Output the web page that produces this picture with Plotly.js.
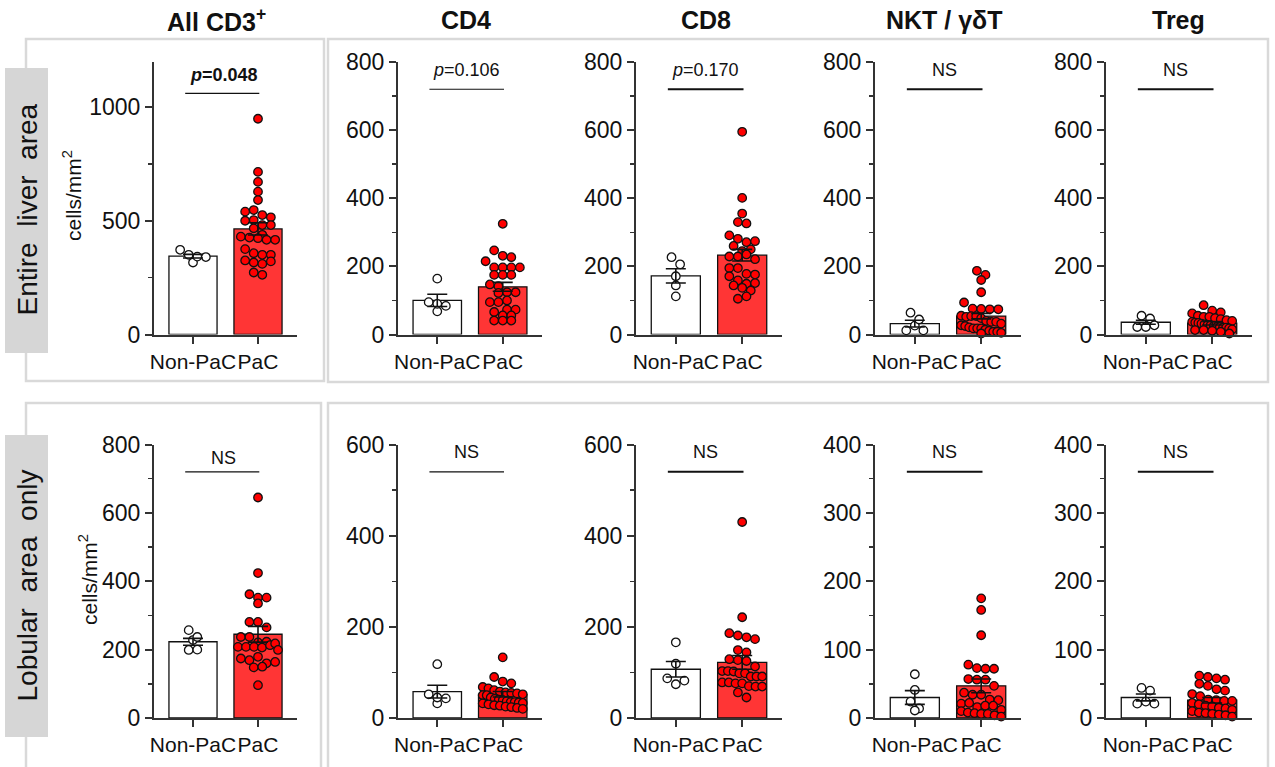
<!DOCTYPE html>
<html>
<head>
<meta charset="utf-8">
<script src="https://cdn.plot.ly/plotly-3.0.1.min.js"></script>
<style>html,body{margin:0;padding:0;background:#fff;}#chart{width:1275px;height:767px;}</style>
</head>
<body>
<div id="chart"></div>
<script>
// ---------- DATA ----------
const groups = ['Non-PaC', 'PaC'];
const panelTitles = ['All CD3<sup>+</sup>', 'CD4', 'CD8', 'NKT / γδT', 'Treg'];
const rowLabels = ['Entire  liver  area', 'Lobular  area  only'];
const yUnitLabel = 'cells/mm<sup>2</sup>';

// axis maxima and tick steps per row
const entireYMax = [1200, 800, 800, 800, 800];
const entireDtick = [500, 200, 200, 200, 200];
const lobularYMax = [800, 600, 600, 400, 400];
const lobularDtick = [200, 200, 200, 100, 100];

// significance labels
const entireSig = ['<b><i>p</i>=0.048</b>', '<i>p</i>=0.106', '<i>p</i>=0.170', 'NS', 'NS'];
const lobularSig = ['NS', 'NS', 'NS', 'NS', 'NS'];

// bar heights (mean) and SEM
const entireMeanNon = [345, 100, 172, 32, 36];
const entireMeanPaC = [465, 140, 233, 54, 33];
const entireSemNon = [8, 18, 21, 10, 6];
const entireSemPaC = [27, 13, 17, 8, 5];
const lobularMeanNon = [223, 58, 107, 30, 30];
const lobularMeanPaC = [245, 52, 122, 47, 26];
const lobularSemNon = [10, 14, 17, 10, 5];
const lobularSemPaC = [23, 6, 15, 10, 4];

// individual points — Entire liver area
const entireNonCD3 = [373, 317, 351, 343, 341];
const entirePaCCD3 = [950, 716, 672, 629, 592, 541, 548, 526, 516, 501, 504, 482, 482, 468, 439, 431, 427, 424, 417, 417, 376, 358, 351, 351, 326, 317, 311, 322, 273, 263];
const entireNonCD4 = [164, 95, 68, 90, 84];
const entirePaCCD4 = [325, 247, 231, 227, 215, 197, 197, 197, 197, 175, 175, 175, 147, 142, 124, 124, 122, 100, 95, 95, 73, 73, 66, 56, 56, 41, 41, 41];
const entireNonCD8 = [227, 206, 171, 144, 112];
const entirePaCCD8 = [595, 401, 355, 330, 326, 291, 281, 271, 274, 260, 245, 250, 229, 229, 235, 221, 195, 195, 178, 176, 171, 159, 144, 149, 151, 137, 129, 105, 112];
const entireNonNKT = [64, 12, 26, 44, 12];
const entirePaCNKT = [187, 175, 160, 124, 94, 76, 75, 74, 74, 55, 52, 54, 54, 48, 40, 37, 37, 32, 27, 25, 21, 18, 18, 18, 14, 11, 8, 8, 5, 3];
const entireNonTreg = [55, 47, 22, 22, 27];
const entirePaCTreg = [86, 70, 65, 62, 55, 52, 52, 48, 45, 42, 40, 37, 35, 34, 32, 30, 28, 27, 25, 22, 22, 20, 20, 18, 15, 13, 13, 11, 8, 3];

// individual points — Lobular area only
const lobularNonCD3 = [257, 228, 237, 199, 200];
const lobularPaCCD3 = [645, 424, 362, 352, 352, 335, 281, 281, 265, 237, 237, 221, 208, 208, 208, 223, 206, 213, 218, 199, 174, 169, 179, 160, 164, 148, 150, 96];
const lobularNonCD4 = [118, 52, 32, 45, 43];
const lobularPaCCD4 = [133, 90, 80, 76, 68, 65, 61, 58, 56, 55, 54, 50, 52, 50, 45, 42, 40, 39, 37, 35, 35, 34, 33, 32, 30, 28, 27, 25, 24, 22, 20];
const lobularNonCD8 = [166, 119, 87, 74, 82];
const lobularPaCCD8 = [430, 221, 186, 181, 177, 173, 149, 144, 129, 127, 125, 113, 103, 103, 102, 98, 98, 91, 91, 91, 78, 78, 76, 76, 70, 69, 69, 56, 45];
const lobularNonNKT = [64, 41, 24, 14, 11];
const lobularPaCNKT = [175, 158, 121, 78, 73, 72, 72, 57, 56, 56, 47, 37, 34, 34, 27, 26, 21, 22, 16, 18, 18, 12, 10, 8, 7, 6, 6, 4, 2];
const lobularNonTreg = [44, 40, 21, 24, 21];
const lobularPaCTreg = [62, 60, 58, 56, 50, 47, 42, 40, 35, 32, 27, 26, 25, 25, 22, 20, 18, 17, 15, 14, 12, 10, 8, 7, 6, 5, 4, 2];

// ---------- LAYOUT GEOMETRY ----------
const W = 1275, H = 767;
const FONT = 'Liberation Sans, Arial, Helvetica, sans-serif';
const colPix = [[154, 297], [398, 542], [636, 782], [875, 1021], [1106, 1252]];
const rowPix = [[62, 334.5], [444.5, 718]];
const XR = [-0.6, 1.6];
const DOT = 8.4;       // marker diameter in px (for spacing)
const HALFW = 20;      // max horizontal half-spread of points in px

const rows = [
  {ymax: entireYMax, dtick: entireDtick, sig: entireSig, mN: entireMeanNon, mP: entireMeanPaC, sN: entireSemNon, sP: entireSemPaC,
   non: [entireNonCD3, entireNonCD4, entireNonCD8, entireNonNKT, entireNonTreg],
   pac: [entirePaCCD3, entirePaCCD4, entirePaCCD8, entirePaCNKT, entirePaCTreg]},
  {ymax: lobularYMax, dtick: lobularDtick, sig: lobularSig, mN: lobularMeanNon, mP: lobularMeanPaC, sN: lobularSemNon, sP: lobularSemPaC,
   non: [lobularNonCD3, lobularNonCD4, lobularNonCD8, lobularNonNKT, lobularNonTreg],
   pac: [lobularPaCCD3, lobularPaCCD4, lobularPaCCD8, lobularPaCNKT, lobularPaCTreg]}
];

// row-binned scatter (GraphPad style): points whose pixel heights lie within one dot
// share a row and are spread side by side, limited to the bar width.
function swarm(vals, pxPerY, pxPerX) {
  const order = vals.map((v, i) => i).sort((a, b) => vals[b] - vals[a]);
  const bins = [];
  let cur = null;
  order.forEach(i => {
    const y = vals[i] * pxPerY;
    if (!cur || (cur.y0 - y) >= DOT * 0.95) { cur = {y0: y, idx: []}; bins.push(cur); }
    cur.idx.push(i);
  });
  const out = new Array(vals.length).fill(0);
  bins.forEach(b => {
    const n = b.idx.length;
    let step = DOT * 1.02;
    if (n > 1 && step * (n - 1) > 2 * HALFW) step = 2 * HALFW / (n - 1);
    const inOrder = b.idx.slice().sort((a, c) => a - c);
    inOrder.forEach((i, j) => { out[i] = ((j - (n - 1) / 2) * step) / pxPerX; });
  });
  return out;
}

const traces = [];
const layout = {
  width: W, height: H, margin: {l: 0, r: 0, t: 0, b: 0},
  paper_bgcolor: '#fff', plot_bgcolor: 'rgba(0,0,0,0)',
  showlegend: false, hovermode: false, bargap: 0,
  font: {family: FONT, color: '#111'},
  shapes: [], annotations: []
};

// frames and row label boxes
const frameStyle = {color: '#d9d9d9', width: 2.5};
[[26, 39, 324, 381], [328, 39, 1268, 382], [26, 403, 321, 800], [328, 403, 1268, 800]].forEach(f => {
  layout.shapes.push({type: 'rect', xref: 'paper', yref: 'paper', x0: f[0] / W, x1: f[2] / W, y0: 1 - f[1] / H, y1: 1 - f[3] / H, line: frameStyle, fillcolor: 'rgba(0,0,0,0)'});
});
[[5, 68, 48, 353], [5, 435, 48, 737]].forEach(f => {
  layout.shapes.push({type: 'rect', xref: 'paper', yref: 'paper', x0: f[0] / W, x1: f[2] / W, y0: 1 - f[1] / H, y1: 1 - f[3] / H, line: {width: 0}, fillcolor: '#d6d6d6'});
});
rowLabels.forEach((t, r) => {
  const yc = r === 0 ? 210 : 586;
  layout.annotations.push({text: t, xref: 'paper', yref: 'paper', x: 26.5 / W, y: 1 - yc / H, textangle: -90,
    showarrow: false, xanchor: 'center', yanchor: 'middle', font: {size: 28, color: '#111', family: FONT}});
});
// y-unit labels
[[72, 196], [88, 580]].forEach(p => {
  layout.annotations.push({text: yUnitLabel, xref: 'paper', yref: 'paper', x: p[0] / W, y: 1 - p[1] / H, textangle: -90,
    showarrow: false, xanchor: 'center', yanchor: 'middle', font: {size: 21, color: '#111', family: FONT}});
});
// column titles
const titleX = [216, 466, 706, 944, 1178];
panelTitles.forEach((t, c) => {
  layout.annotations.push({text: '<b>' + t + '</b>', xref: 'paper', yref: 'paper', x: titleX[c] / W, y: 1 - 20 / H,
    showarrow: false, xanchor: 'center', yanchor: 'middle', font: {size: 25, color: '#111', family: FONT}});
});

rows.forEach((R, r) => {
  for (let c = 0; c < 5; c++) {
    const k = r * 5 + c + 1;
    const sfx = k === 1 ? '' : String(k);
    const xa = 'x' + sfx, ya = 'y' + sfx;
    const [px0, px1] = colPix[c];
    const [py0, py1] = rowPix[r];
    const ymax = R.ymax[c];
    const pxPerY = (py1 - py0) / ymax;
    const pxPerX = (px1 - px0) / (XR[1] - XR[0]);

    layout['xaxis' + sfx] = {
      domain: [px0 / W, px1 / W], anchor: ya, range: XR, fixedrange: true,
      tickvals: [0, 1], ticktext: groups, tickangle: 0, ticks: 'outside', ticklen: 7, tickwidth: 2, tickcolor: '#333',
      showline: true, linecolor: '#333', linewidth: 2, showgrid: false, zeroline: false,
      tickfont: {size: 21, color: '#111', family: FONT}
    };
    layout['yaxis' + sfx] = {
      domain: [1 - py1 / H, 1 - py0 / H], anchor: xa, range: [0, ymax], fixedrange: true,
      dtick: R.dtick[c], tick0: 0, ticks: 'outside', ticklen: 7, tickwidth: 2, tickcolor: '#333',
      minor: {dtick: R.dtick[c] / 2, ticks: 'outside', ticklen: 4, tickwidth: 1.5, tickcolor: '#333', showgrid: false},
      showline: true, linecolor: '#333', linewidth: 2, showgrid: false, zeroline: false,
      tickfont: {size: 23, color: '#111', family: FONT}
    };

    // bars (means)
    traces.push({type: 'bar', x: [0, 1], y: [R.mN[c], R.mP[c]], width: 0.74, xaxis: xa, yaxis: ya,
      marker: {color: ['#ffffff', '#ff3535'], line: {color: '#111', width: 1.3}}, hoverinfo: 'skip'});

    // points
    const nonV = R.non[c], pacV = R.pac[c];
    const offN = swarm(nonV, pxPerY, pxPerX);
    const offP = swarm(pacV, pxPerY, pxPerX);
    traces.push({type: 'scatter', mode: 'markers', x: offN.map(o => 0 + o), y: nonV, xaxis: xa, yaxis: ya, cliponaxis: false,
      marker: {size: 8.5, color: '#ffffff', line: {color: '#111', width: 1.3}}, hoverinfo: 'skip'});
    traces.push({type: 'scatter', mode: 'markers', x: offP.map(o => 1 + o), y: pacV, xaxis: xa, yaxis: ya, cliponaxis: false,
      marker: {size: 8.5, color: '#ff0000', line: {color: '#111', width: 1.3}}, hoverinfo: 'skip'});

    // mean ± SEM on top
    traces.push({type: 'scatter', mode: 'markers', x: [0, 1], y: [R.mN[c], R.mP[c]], xaxis: xa, yaxis: ya, cliponaxis: false,
      marker: {size: 1, color: 'rgba(0,0,0,0)'}, hoverinfo: 'skip',
      error_y: {type: 'data', array: [R.sN[c], R.sP[c]], symmetric: true, width: 10, thickness: 1.6, color: '#111'}});

    // significance bar and label
    const lineY = (r === 0 && c === 0) ? 0.885 : 0.9;
    const thick = (c <= 1) ? 1.2 : 2;
    layout.shapes.push({type: 'line', xref: xa, yref: ya + ' domain', x0: -0.12, x1: 1.02, y0: lineY, y1: lineY,
      line: {color: '#111', width: thick}});
    const txtY = (c === 0) ? 0.952 : 0.972;
    layout.annotations.push({text: R.sig[c], xref: xa, yref: ya + ' domain', x: (c === 0 ? 0.47 : 0.44), y: txtY,
      showarrow: false, xanchor: 'center', yanchor: 'middle', font: {size: 18, color: '#111', family: FONT}});
  }
});

Plotly.newPlot('chart', traces, layout, {displayModeBar: false, staticPlot: true});
</script>
</body>
</html>
